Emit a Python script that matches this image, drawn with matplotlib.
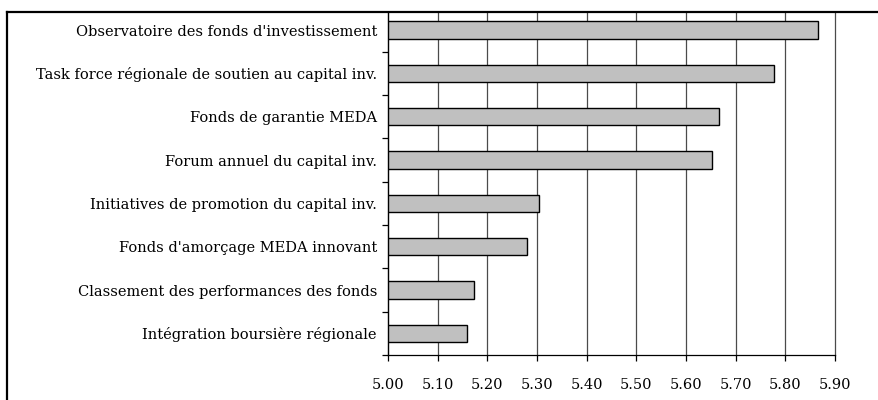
import matplotlib
matplotlib.use("Agg")
import matplotlib.pyplot as plt
from matplotlib.lines import Line2D
from matplotlib.ticker import FixedLocator, FuncFormatter

categories = [
    "Observatoire des fonds d'investissement",
    "Task force régionale de soutien au capital inv.",
    "Fonds de garantie MEDA",
    "Forum annuel du capital inv.",
    "Initiatives de promotion du capital inv.",
    "Fonds d'amorçage MEDA innovant",
    "Classement des performances des fonds",
    "Intégration boursière régionale",
]
values = [5.865, 5.778, 5.667, 5.653, 5.305, 5.279, 5.174, 5.159]
x_ticks = [5.00, 5.10, 5.20, 5.30, 5.40, 5.50, 5.60, 5.70, 5.80, 5.90]

W, H = 879, 400
fig = plt.figure(figsize=(W / 100, H / 100), dpi=100)
fig.patch.set_facecolor("white")

ax = fig.add_axes([388 / W, (H - 355) / H, (835 - 388) / W, (355 - 13) / H])

n = len(categories)
ypos = list(range(n - 1, -1, -1))
ax.barh(ypos, [v - x_ticks[0] for v in values], left=x_ticks[0], height=0.4,
        color="#c0c0c0", edgecolor="black", linewidth=1.0, zorder=3)

ax.set_xlim(x_ticks[0], x_ticks[-1])
ax.set_ylim(-0.5, n - 0.5 - 0.106)

ax.set_xticks(x_ticks)
ax.xaxis.set_major_formatter(FuncFormatter(lambda v, p: f"{v:.2f}"))
ax.xaxis.grid(True, color="#4a4a4a", linewidth=0.9, zorder=1)
ax.set_axisbelow(True)
for t in ax.xaxis.get_major_ticks():
    t.gridline.set_clip_on(False)

ax.set_yticks(ypos)
ax.set_yticklabels(categories)
ax.yaxis.set_minor_locator(FixedLocator([i + 0.5 for i in range(-1, n - 1)]))
ax.tick_params(axis="y", which="major", length=0, pad=8)
ax.tick_params(axis="y", which="minor", length=4.5, width=0.9, direction="out")
ax.tick_params(axis="x", which="major", length=4.5, width=0.9, direction="out", pad=12)

font = "DejaVu Serif"
for lab in ax.get_yticklabels() + ax.get_xticklabels():
    lab.set_fontfamily(font)
    lab.set_fontsize(10.5)

for side in ("top", "right"):
    ax.spines[side].set_visible(False)
for side in ("left", "bottom"):
    ax.spines[side].set_linewidth(0.9)
    ax.spines[side].set_color("black")

# outer frame (left and top edges of the enclosing box)
fx = 7.5 / W
fy = 1 - 11.5 / H
fig.add_artist(Line2D([fx, fx], [0, fy], transform=fig.transFigure, color="black", linewidth=1.6))
fig.add_artist(Line2D([fx, 1], [fy, fy], transform=fig.transFigure, color="black", linewidth=1.6))

fig.savefig("out.png", dpi=100, facecolor="white")
